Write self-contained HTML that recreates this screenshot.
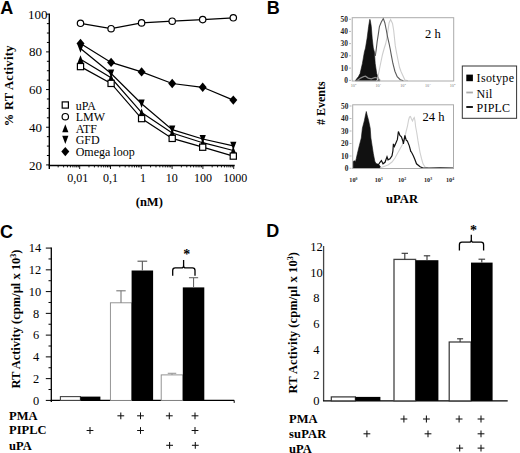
<!DOCTYPE html>
<html><head><meta charset="utf-8"><style>
html,body{margin:0;padding:0;background:#fff;width:520px;height:453px;overflow:hidden;}
svg{display:block;font-family:"Liberation Serif",serif;}
</style></head><body>
<svg width="520" height="453" viewBox="0 0 520 453">
<rect width="520" height="453" fill="#fff"/>
<text x="0.3" y="13.8" font-size="18" text-anchor="start" font-weight="bold" font-family="Liberation Sans, sans-serif" fill="#000" >A</text>
<text x="266.7" y="13.6" font-size="18" text-anchor="start" font-weight="bold" font-family="Liberation Sans, sans-serif" fill="#000" >B</text>
<text x="0.0" y="237.9" font-size="18" text-anchor="start" font-weight="bold" font-family="Liberation Sans, sans-serif" fill="#000" >C</text>
<text x="266.3" y="237.3" font-size="18" text-anchor="start" font-weight="bold" font-family="Liberation Sans, sans-serif" fill="#000" >D</text>
<line x1="49.3" y1="13.5" x2="49.3" y2="169.0" stroke="#000" stroke-width="1.4"/>
<line x1="48.699999999999996" y1="165.4" x2="234.7" y2="165.4" stroke="#000" stroke-width="1.5"/>
<line x1="46.099999999999994" y1="164.92" x2="49.3" y2="164.92" stroke="#000" stroke-width="1"/>
<line x1="46.9" y1="155.49999999999997" x2="49.3" y2="155.49999999999997" stroke="#000" stroke-width="1"/>
<line x1="46.9" y1="146.07999999999998" x2="49.3" y2="146.07999999999998" stroke="#000" stroke-width="1"/>
<line x1="46.9" y1="136.66" x2="49.3" y2="136.66" stroke="#000" stroke-width="1"/>
<line x1="46.099999999999994" y1="127.24" x2="49.3" y2="127.24" stroke="#000" stroke-width="1"/>
<line x1="46.9" y1="117.82" x2="49.3" y2="117.82" stroke="#000" stroke-width="1"/>
<line x1="46.9" y1="108.39999999999999" x2="49.3" y2="108.39999999999999" stroke="#000" stroke-width="1"/>
<line x1="46.9" y1="98.98" x2="49.3" y2="98.98" stroke="#000" stroke-width="1"/>
<line x1="46.099999999999994" y1="89.56" x2="49.3" y2="89.56" stroke="#000" stroke-width="1"/>
<line x1="46.9" y1="80.14" x2="49.3" y2="80.14" stroke="#000" stroke-width="1"/>
<line x1="46.9" y1="70.72" x2="49.3" y2="70.72" stroke="#000" stroke-width="1"/>
<line x1="46.9" y1="61.3" x2="49.3" y2="61.3" stroke="#000" stroke-width="1"/>
<line x1="46.099999999999994" y1="51.879999999999995" x2="49.3" y2="51.879999999999995" stroke="#000" stroke-width="1"/>
<line x1="46.9" y1="42.459999999999994" x2="49.3" y2="42.459999999999994" stroke="#000" stroke-width="1"/>
<line x1="46.9" y1="33.04" x2="49.3" y2="33.04" stroke="#000" stroke-width="1"/>
<line x1="46.9" y1="23.619999999999997" x2="49.3" y2="23.619999999999997" stroke="#000" stroke-width="1"/>
<line x1="46.099999999999994" y1="14.2" x2="49.3" y2="14.2" stroke="#000" stroke-width="1"/>
<text x="28.1" y="18.799999999999997" font-size="13" text-anchor="start" font-family="Liberation Serif, serif" fill="#000" >100</text>
<text x="28.9" y="56.48" font-size="13" text-anchor="start" font-family="Liberation Serif, serif" fill="#000" >80</text>
<text x="28.9" y="94.16" font-size="13" text-anchor="start" font-family="Liberation Serif, serif" fill="#000" >60</text>
<text x="28.9" y="131.84" font-size="13" text-anchor="start" font-family="Liberation Serif, serif" fill="#000" >40</text>
<text x="28.9" y="169.51999999999998" font-size="13" text-anchor="start" font-family="Liberation Serif, serif" fill="#000" >20</text>
<line x1="58.17172386645062" y1="165.4" x2="58.17172386645062" y2="167.4" stroke="#000" stroke-width="0.9"/>
<line x1="63.59533464536561" y1="165.4" x2="63.59533464536561" y2="167.4" stroke="#000" stroke-width="0.9"/>
<line x1="67.44344773290125" y1="165.4" x2="67.44344773290125" y2="167.4" stroke="#000" stroke-width="0.9"/>
<line x1="70.42827613354937" y1="165.4" x2="70.42827613354937" y2="167.4" stroke="#000" stroke-width="0.9"/>
<line x1="72.86705851181624" y1="165.4" x2="72.86705851181624" y2="167.4" stroke="#000" stroke-width="0.9"/>
<line x1="74.92901963243912" y1="165.4" x2="74.92901963243912" y2="167.4" stroke="#000" stroke-width="0.9"/>
<line x1="76.71517159935188" y1="165.4" x2="76.71517159935188" y2="167.4" stroke="#000" stroke-width="0.9"/>
<line x1="78.2906692907312" y1="165.4" x2="78.2906692907312" y2="167.4" stroke="#000" stroke-width="0.9"/>
<line x1="79.7" y1="165.4" x2="79.7" y2="169.0" stroke="#000" stroke-width="0.9"/>
<line x1="88.97172386645063" y1="165.4" x2="88.97172386645063" y2="167.4" stroke="#000" stroke-width="0.9"/>
<line x1="94.39533464536561" y1="165.4" x2="94.39533464536561" y2="167.4" stroke="#000" stroke-width="0.9"/>
<line x1="98.24344773290125" y1="165.4" x2="98.24344773290125" y2="167.4" stroke="#000" stroke-width="0.9"/>
<line x1="101.22827613354939" y1="165.4" x2="101.22827613354939" y2="167.4" stroke="#000" stroke-width="0.9"/>
<line x1="103.66705851181622" y1="165.4" x2="103.66705851181622" y2="167.4" stroke="#000" stroke-width="0.9"/>
<line x1="105.72901963243912" y1="165.4" x2="105.72901963243912" y2="167.4" stroke="#000" stroke-width="0.9"/>
<line x1="107.51517159935186" y1="165.4" x2="107.51517159935186" y2="167.4" stroke="#000" stroke-width="0.9"/>
<line x1="109.0906692907312" y1="165.4" x2="109.0906692907312" y2="167.4" stroke="#000" stroke-width="0.9"/>
<line x1="110.5" y1="165.4" x2="110.5" y2="169.0" stroke="#000" stroke-width="0.9"/>
<line x1="119.77172386645063" y1="165.4" x2="119.77172386645063" y2="167.4" stroke="#000" stroke-width="0.9"/>
<line x1="125.1953346453656" y1="165.4" x2="125.1953346453656" y2="167.4" stroke="#000" stroke-width="0.9"/>
<line x1="129.04344773290126" y1="165.4" x2="129.04344773290126" y2="167.4" stroke="#000" stroke-width="0.9"/>
<line x1="132.02827613354938" y1="165.4" x2="132.02827613354938" y2="167.4" stroke="#000" stroke-width="0.9"/>
<line x1="134.46705851181622" y1="165.4" x2="134.46705851181622" y2="167.4" stroke="#000" stroke-width="0.9"/>
<line x1="136.52901963243912" y1="165.4" x2="136.52901963243912" y2="167.4" stroke="#000" stroke-width="0.9"/>
<line x1="138.31517159935186" y1="165.4" x2="138.31517159935186" y2="167.4" stroke="#000" stroke-width="0.9"/>
<line x1="139.8906692907312" y1="165.4" x2="139.8906692907312" y2="167.4" stroke="#000" stroke-width="0.9"/>
<line x1="141.3" y1="165.4" x2="141.3" y2="169.0" stroke="#000" stroke-width="0.9"/>
<line x1="150.5717238664506" y1="165.4" x2="150.5717238664506" y2="167.4" stroke="#000" stroke-width="0.9"/>
<line x1="155.99533464536563" y1="165.4" x2="155.99533464536563" y2="167.4" stroke="#000" stroke-width="0.9"/>
<line x1="159.84344773290127" y1="165.4" x2="159.84344773290127" y2="167.4" stroke="#000" stroke-width="0.9"/>
<line x1="162.82827613354937" y1="165.4" x2="162.82827613354937" y2="167.4" stroke="#000" stroke-width="0.9"/>
<line x1="165.26705851181623" y1="165.4" x2="165.26705851181623" y2="167.4" stroke="#000" stroke-width="0.9"/>
<line x1="167.3290196324391" y1="165.4" x2="167.3290196324391" y2="167.4" stroke="#000" stroke-width="0.9"/>
<line x1="169.11517159935187" y1="165.4" x2="169.11517159935187" y2="167.4" stroke="#000" stroke-width="0.9"/>
<line x1="170.6906692907312" y1="165.4" x2="170.6906692907312" y2="167.4" stroke="#000" stroke-width="0.9"/>
<line x1="172.10000000000002" y1="165.4" x2="172.10000000000002" y2="169.0" stroke="#000" stroke-width="0.9"/>
<line x1="181.37172386645062" y1="165.4" x2="181.37172386645062" y2="167.4" stroke="#000" stroke-width="0.9"/>
<line x1="186.7953346453656" y1="165.4" x2="186.7953346453656" y2="167.4" stroke="#000" stroke-width="0.9"/>
<line x1="190.64344773290125" y1="165.4" x2="190.64344773290125" y2="167.4" stroke="#000" stroke-width="0.9"/>
<line x1="193.62827613354938" y1="165.4" x2="193.62827613354938" y2="167.4" stroke="#000" stroke-width="0.9"/>
<line x1="196.06705851181624" y1="165.4" x2="196.06705851181624" y2="167.4" stroke="#000" stroke-width="0.9"/>
<line x1="198.1290196324391" y1="165.4" x2="198.1290196324391" y2="167.4" stroke="#000" stroke-width="0.9"/>
<line x1="199.91517159935188" y1="165.4" x2="199.91517159935188" y2="167.4" stroke="#000" stroke-width="0.9"/>
<line x1="201.4906692907312" y1="165.4" x2="201.4906692907312" y2="167.4" stroke="#000" stroke-width="0.9"/>
<line x1="202.9" y1="165.4" x2="202.9" y2="169.0" stroke="#000" stroke-width="0.9"/>
<line x1="212.17172386645063" y1="165.4" x2="212.17172386645063" y2="167.4" stroke="#000" stroke-width="0.9"/>
<line x1="217.5953346453656" y1="165.4" x2="217.5953346453656" y2="167.4" stroke="#000" stroke-width="0.9"/>
<line x1="221.44344773290123" y1="165.4" x2="221.44344773290123" y2="167.4" stroke="#000" stroke-width="0.9"/>
<line x1="224.4282761335494" y1="165.4" x2="224.4282761335494" y2="167.4" stroke="#000" stroke-width="0.9"/>
<line x1="226.86705851181625" y1="165.4" x2="226.86705851181625" y2="167.4" stroke="#000" stroke-width="0.9"/>
<line x1="228.92901963243912" y1="165.4" x2="228.92901963243912" y2="167.4" stroke="#000" stroke-width="0.9"/>
<line x1="230.7151715993519" y1="165.4" x2="230.7151715993519" y2="167.4" stroke="#000" stroke-width="0.9"/>
<line x1="232.29066929073122" y1="165.4" x2="232.29066929073122" y2="167.4" stroke="#000" stroke-width="0.9"/>
<line x1="233.7" y1="165.4" x2="233.7" y2="169.0" stroke="#000" stroke-width="0.9"/>
<text x="77.8" y="182.2" font-size="12" text-anchor="middle" font-family="Liberation Serif, serif" fill="#000" >0,01</text>
<text x="110.4" y="182.2" font-size="12" text-anchor="middle" font-family="Liberation Serif, serif" fill="#000" >0,1</text>
<text x="143.0" y="182.2" font-size="12" text-anchor="middle" font-family="Liberation Serif, serif" fill="#000" >1</text>
<text x="171.8" y="182.2" font-size="12" text-anchor="middle" font-family="Liberation Serif, serif" fill="#000" >10</text>
<text x="203.1" y="182.2" font-size="12" text-anchor="middle" font-family="Liberation Serif, serif" fill="#000" >100</text>
<text x="235.2" y="182.2" font-size="12" text-anchor="middle" font-family="Liberation Serif, serif" fill="#000" >1000</text>
<text x="149.3" y="205.5" font-size="12.5" text-anchor="middle" font-weight="bold" font-family="Liberation Serif, serif" fill="#000" >(nM)</text>
<text transform="translate(13.2,85.8) rotate(-90)" x="0" y="0" font-size="12.5" letter-spacing="0.3" text-anchor="middle" font-weight="bold" font-family="Liberation Serif, serif">% RT Activity</text>
<polyline points="80.5,23.3 111.1,28.7 141.6,22.9 172.2,21.2 202.7,19.6 233.3,17.8" fill="none" stroke="#000" stroke-width="1.2"/>
<polyline points="80.5,43.4 111.1,62.4 141.6,71.9 172.2,83.5 202.7,87.3 233.3,100.1" fill="none" stroke="#000" stroke-width="1.2"/>
<polyline points="80.5,48.5 111.1,73.5 141.6,103.7 172.2,129.6 202.7,139.0 233.3,145.9" fill="none" stroke="#000" stroke-width="1.2"/>
<polyline points="80.5,59.3 111.1,77.8 141.6,112.6 172.2,133.0 202.7,142.7 233.3,150.5" fill="none" stroke="#000" stroke-width="1.2"/>
<polyline points="80.5,66.6 111.1,83.4 141.6,118.6 172.2,138.4 202.7,147.2 233.3,156.1" fill="none" stroke="#000" stroke-width="1.2"/>
<circle cx="80.5" cy="23.3" r="3.2" fill="#fff" stroke="#000" stroke-width="1.2"/>
<circle cx="111.1" cy="28.7" r="3.2" fill="#fff" stroke="#000" stroke-width="1.2"/>
<circle cx="141.6" cy="22.9" r="3.2" fill="#fff" stroke="#000" stroke-width="1.2"/>
<circle cx="172.2" cy="21.2" r="3.2" fill="#fff" stroke="#000" stroke-width="1.2"/>
<circle cx="202.7" cy="19.6" r="3.2" fill="#fff" stroke="#000" stroke-width="1.2"/>
<circle cx="233.3" cy="17.8" r="3.2" fill="#fff" stroke="#000" stroke-width="1.2"/>
<path d="M80.5,38.7 L84.5,43.4 L80.5,48.1 L76.5,43.4Z" fill="#000"/>
<path d="M111.1,57.7 L115.1,62.4 L111.1,67.1 L107.1,62.4Z" fill="#000"/>
<path d="M141.6,67.2 L145.6,71.9 L141.6,76.6 L137.6,71.9Z" fill="#000"/>
<path d="M172.2,78.8 L176.2,83.5 L172.2,88.2 L168.2,83.5Z" fill="#000"/>
<path d="M202.7,82.6 L206.7,87.3 L202.7,92.0 L198.7,87.3Z" fill="#000"/>
<path d="M233.3,95.4 L237.3,100.1 L233.3,104.8 L229.3,100.1Z" fill="#000"/>
<path d="M77.4,44.4 L83.6,44.4 L80.5,52.7Z" fill="#000"/>
<path d="M108.0,69.4 L114.2,69.4 L111.1,77.7Z" fill="#000"/>
<path d="M138.5,99.6 L144.7,99.6 L141.6,107.9Z" fill="#000"/>
<path d="M169.1,125.5 L175.3,125.5 L172.2,133.8Z" fill="#000"/>
<path d="M199.6,134.9 L205.8,134.9 L202.7,143.2Z" fill="#000"/>
<path d="M230.2,141.8 L236.4,141.8 L233.3,150.1Z" fill="#000"/>
<path d="M80.5,55.2 L83.6,63.3 L77.4,63.3Z" fill="#000"/>
<path d="M111.1,73.7 L114.2,81.8 L108.0,81.8Z" fill="#000"/>
<path d="M141.6,108.5 L144.7,116.6 L138.5,116.6Z" fill="#000"/>
<path d="M172.2,128.9 L175.3,137.0 L169.1,137.0Z" fill="#000"/>
<path d="M202.7,138.6 L205.8,146.7 L199.6,146.7Z" fill="#000"/>
<path d="M233.3,146.4 L236.4,154.5 L230.2,154.5Z" fill="#000"/>
<rect x="77.4" y="63.5" width="6.2" height="6.2" fill="#fff" stroke="#000" stroke-width="1.2"/>
<rect x="108.0" y="80.3" width="6.2" height="6.2" fill="#fff" stroke="#000" stroke-width="1.2"/>
<rect x="138.5" y="115.5" width="6.2" height="6.2" fill="#fff" stroke="#000" stroke-width="1.2"/>
<rect x="169.1" y="135.3" width="6.2" height="6.2" fill="#fff" stroke="#000" stroke-width="1.2"/>
<rect x="199.6" y="144.1" width="6.2" height="6.2" fill="#fff" stroke="#000" stroke-width="1.2"/>
<rect x="230.2" y="153.0" width="6.2" height="6.2" fill="#fff" stroke="#000" stroke-width="1.2"/>
<rect x="62.2" y="101.9" width="6.2" height="6.2" fill="#fff" stroke="#000" stroke-width="1.2"/>
<text x="75.7" y="109.5" font-size="12" text-anchor="start" font-family="Liberation Serif, serif" fill="#000" >uPA</text>
<circle cx="65.3" cy="116.7" r="3.2" fill="#fff" stroke="#000" stroke-width="1.2"/>
<text x="75.7" y="121.15" font-size="12" text-anchor="start" font-family="Liberation Serif, serif" fill="#000" >LMW</text>
<path d="M65.3,124.2 L68.4,132.3 L62.2,132.3Z" fill="#000"/>
<text x="75.7" y="132.8" font-size="12" text-anchor="start" font-family="Liberation Serif, serif" fill="#000" >ATF</text>
<path d="M62.2,135.8 L68.4,135.8 L65.3,144.1Z" fill="#000"/>
<text x="75.7" y="144.45" font-size="12" text-anchor="start" font-family="Liberation Serif, serif" fill="#000" >GFD</text>
<path d="M65.3,146.9 L69.3,151.6 L65.3,156.3 L61.3,151.6Z" fill="#000"/>
<text x="75.7" y="156.1" font-size="12" text-anchor="start" font-family="Liberation Serif, serif" fill="#000" >Omega loop</text>
<path d="M355.3,80.8 L356.6,78.9 L358.5,76.5 L360.1,73.5 L362.4,63.5 L364.4,51.9 L365.5,48.0 L367.1,38.2 L368.6,26.6 L369.5,21.0 L369.9,19.3 L370.4,21.0 L371.3,26.6 L372.2,38.2 L373.3,48.0 L374.4,51.9 L375.2,63.5 L376.7,73.5 L378.7,78.9 L380.0,80.8Z" fill="#111" stroke="#111" stroke-width="0.6"/>
<path d="M357.5,80.3 L358.2,79.7 L361.0,77.8 L363.6,76.6 L365.5,76.2 L368.2,78.1 L371.3,78.9 L375.2,77.4 L378.3,78.5 L380.0,80.3" fill="none" stroke="#8a8a8a" stroke-width="1.3"/>
<path d="M376.5,80.8 L377.5,79.5 L378.6,73.5 L380.5,64.0 L382.5,54.5 L384.3,48.0 L385.6,44.0 L386.8,38.5 L388.3,28.1 L389.1,22.7 L390.6,19.6 L392.5,23.5 L393.7,30.5 L394.5,38.2 L395.3,45.9 L396.4,52.0 L398.0,60.0 L399.5,67.3 L401.0,71.5 L402.6,75.0 L404.9,80.0 L408.0,80.8" fill="none" stroke="#cdcdcd" stroke-width="1.1"/>
<path d="M375.3,56.0 L376.3,49.0 L377.1,42.0 L378.3,34.3 L379.4,26.6 L381.3,22.0 L383.3,18.5 L384.8,22.7 L386.4,30.5 L387.5,36.6 L389.1,43.6 L390.2,49.0 L391.4,55.7 L392.9,63.5 L394.9,71.2 L397.2,76.6 L400.3,79.7 L403.4,80.8" fill="none" stroke="#5a5a5a" stroke-width="1.1"/>
<rect x="352.2" y="17.7" width="101.5" height="63.3" fill="none" stroke="#ababab" stroke-width="1"/>
<line x1="349.0" y1="19.3" x2="351.0" y2="19.3" stroke="#999" stroke-width="0.7"/>
<text x="348.0" y="21.900000000000002" font-size="7.4" text-anchor="end" font-weight="bold" font-family="Liberation Serif, serif" fill="#222" >50</text>
<line x1="349.0" y1="31.4" x2="351.0" y2="31.4" stroke="#999" stroke-width="0.7"/>
<text x="348.0" y="34.0" font-size="7.4" text-anchor="end" font-weight="bold" font-family="Liberation Serif, serif" fill="#222" >40</text>
<line x1="349.0" y1="43.6" x2="351.0" y2="43.6" stroke="#999" stroke-width="0.7"/>
<text x="348.0" y="46.2" font-size="7.4" text-anchor="end" font-weight="bold" font-family="Liberation Serif, serif" fill="#222" >30</text>
<line x1="349.0" y1="55.8" x2="351.0" y2="55.8" stroke="#999" stroke-width="0.7"/>
<text x="348.0" y="58.4" font-size="7.4" text-anchor="end" font-weight="bold" font-family="Liberation Serif, serif" fill="#222" >20</text>
<line x1="349.0" y1="68.1" x2="351.0" y2="68.1" stroke="#999" stroke-width="0.7"/>
<text x="348.0" y="70.69999999999999" font-size="7.4" text-anchor="end" font-weight="bold" font-family="Liberation Serif, serif" fill="#222" >10</text>
<line x1="349.0" y1="80.4" x2="351.0" y2="80.4" stroke="#999" stroke-width="0.7"/>
<text x="348.0" y="83.0" font-size="7.4" text-anchor="end" font-weight="bold" font-family="Liberation Serif, serif" fill="#222" >0</text>
<text x="353.5" y="86.8" font-size="4.2" text-anchor="middle" font-family="Liberation Serif, serif" fill="#777" >10<tspan font-size="2.8" dy="-1.6">0</tspan></text>
<text x="378.3" y="86.8" font-size="4.2" text-anchor="middle" font-family="Liberation Serif, serif" fill="#777" >10<tspan font-size="2.8" dy="-1.6">1</tspan></text>
<text x="403" y="86.8" font-size="4.2" text-anchor="middle" font-family="Liberation Serif, serif" fill="#777" >10<tspan font-size="2.8" dy="-1.6">2</tspan></text>
<text x="427.8" y="86.8" font-size="4.2" text-anchor="middle" font-family="Liberation Serif, serif" fill="#777" >10<tspan font-size="2.8" dy="-1.6">3</tspan></text>
<text x="452.5" y="86.8" font-size="4.2" text-anchor="middle" font-family="Liberation Serif, serif" fill="#777" >10<tspan font-size="2.8" dy="-1.6">4</tspan></text>
<path d="M353.0,168.5 L353.0,161.5 L354.5,160.8 L355.5,161.5 L356.3,158.5 L357.4,153.5 L359.3,145.7 L361.3,138.0 L362.4,128.2 L364.4,120.5 L365.5,115.0 L366.3,111.5 L367.1,115.0 L368.6,120.5 L370.2,128.2 L370.9,138.0 L372.1,145.7 L373.3,153.5 L374.8,161.2 L376.0,163.5 L378.3,164.3 L380.0,166.0 L381.0,168.5Z" fill="#111" stroke="#111" stroke-width="0.6"/>
<path d="M380.0,168.0 L384.0,166.5 L388.0,165.0 L392.0,162.0 L395.0,158.0 L398.0,152.5 L400.5,148.0 L402.9,143.9 L404.5,138.0 L406.0,132.0 L407.5,126.0 L408.6,120.0 L409.5,117.0 L410.5,116.5 L411.5,119.0 L412.5,121.0 L413.5,118.5 L414.3,117.5 L415.0,121.0 L415.6,126.5 L416.8,133.0 L418.0,140.9 L420.0,152.3 L421.5,158.5 L423.0,163.8 L425.0,167.0 L428.0,168.0" fill="none" stroke="#d0d0d0" stroke-width="1.1"/>
<path d="M375.5,166.8 L378.3,165.0 L379.8,162.5 L381.4,160.6 L383.0,163.8 L385.0,162.3 L387.0,156.8 L388.0,159.8 L390.0,158.8 L392.0,155.8 L392.9,150.8 L393.4,143.9 L394.4,146.4 L395.9,142.9 L397.4,139.4 L398.4,131.5 L399.9,135.4 L401.4,136.9 L403.0,141.5 L403.4,143.9 L404.9,135.4 L406.3,140.4 L407.3,140.9 L409.3,145.9 L410.8,151.5 L411.3,151.8 L413.3,155.8 L414.8,159.3 L416.5,163.8 L420.1,166.7 L423.0,168.0 L430.0,168.2 L440.0,167.8 L453.0,168.2" fill="none" stroke="#111" stroke-width="1.2"/>
<rect x="352.7" y="104.8" width="100.80000000000001" height="63.7" fill="none" stroke="#ababab" stroke-width="1"/>
<line x1="349.5" y1="106.0" x2="351.5" y2="106.0" stroke="#999" stroke-width="0.7"/>
<text x="348.5" y="108.6" font-size="7.4" text-anchor="end" font-weight="bold" font-family="Liberation Serif, serif" fill="#222" >50</text>
<line x1="349.5" y1="118.5" x2="351.5" y2="118.5" stroke="#999" stroke-width="0.7"/>
<text x="348.5" y="121.1" font-size="7.4" text-anchor="end" font-weight="bold" font-family="Liberation Serif, serif" fill="#222" >40</text>
<line x1="349.5" y1="131.0" x2="351.5" y2="131.0" stroke="#999" stroke-width="0.7"/>
<text x="348.5" y="133.6" font-size="7.4" text-anchor="end" font-weight="bold" font-family="Liberation Serif, serif" fill="#222" >30</text>
<line x1="349.5" y1="143.5" x2="351.5" y2="143.5" stroke="#999" stroke-width="0.7"/>
<text x="348.5" y="146.1" font-size="7.4" text-anchor="end" font-weight="bold" font-family="Liberation Serif, serif" fill="#222" >20</text>
<line x1="349.5" y1="156.0" x2="351.5" y2="156.0" stroke="#999" stroke-width="0.7"/>
<text x="348.5" y="158.6" font-size="7.4" text-anchor="end" font-weight="bold" font-family="Liberation Serif, serif" fill="#222" >10</text>
<line x1="349.5" y1="168.3" x2="351.5" y2="168.3" stroke="#999" stroke-width="0.7"/>
<text x="348.5" y="170.9" font-size="7.4" text-anchor="end" font-weight="bold" font-family="Liberation Serif, serif" fill="#222" >0</text>
<text x="353.4" y="181.8" font-size="6.2" text-anchor="middle" font-weight="bold" font-family="Liberation Serif, serif" fill="#222" >10<tspan font-size="3.8" dy="-2.2">0</tspan></text>
<text x="378.8" y="181.8" font-size="6.2" text-anchor="middle" font-weight="bold" font-family="Liberation Serif, serif" fill="#222" >10<tspan font-size="3.8" dy="-2.2">1</tspan></text>
<text x="402.0" y="181.8" font-size="6.2" text-anchor="middle" font-weight="bold" font-family="Liberation Serif, serif" fill="#222" >10<tspan font-size="3.8" dy="-2.2">2</tspan></text>
<text x="428.0" y="181.8" font-size="6.2" text-anchor="middle" font-weight="bold" font-family="Liberation Serif, serif" fill="#222" >10<tspan font-size="3.8" dy="-2.2">3</tspan></text>
<text x="450.0" y="181.8" font-size="6.2" text-anchor="middle" font-weight="bold" font-family="Liberation Serif, serif" fill="#222" >10<tspan font-size="3.8" dy="-2.2">4</tspan></text>
<text x="425.1" y="37.9" font-size="12.6" text-anchor="start" font-family="Liberation Serif, serif" fill="#000" >2 h</text>
<text x="422.5" y="120.7" font-size="12.6" text-anchor="start" font-family="Liberation Serif, serif" fill="#000" >24 h</text>
<text transform="translate(324.8,103.2) rotate(-90)" font-size="12" text-anchor="middle" font-weight="bold" font-family="Liberation Serif, serif">#  Events</text>
<text x="402.1" y="202.9" font-size="12.6" text-anchor="middle" font-weight="bold" font-family="Liberation Serif, serif" fill="#000" >uPAR</text>
<rect x="462.3" y="66.0" width="54.3" height="52.3" fill="#fff" stroke="#333" stroke-width="1"/>
<rect x="466.3" y="74.6" width="6.6" height="6.6" fill="#000"/>
<line x1="466.3" y1="92.5" x2="472.9" y2="92.5" stroke="#aaa" stroke-width="1.8"/>
<line x1="466.3" y1="107.0" x2="472.9" y2="107.0" stroke="#000" stroke-width="1.8"/>
<text x="476.6" y="82.4" font-size="12" text-anchor="start" font-family="Liberation Serif, serif" fill="#000" letter-spacing="0.35">Isotype</text>
<text x="476.6" y="97.7" font-size="12" text-anchor="start" font-family="Liberation Serif, serif" fill="#000" letter-spacing="0.2">Nil</text>
<text x="476.6" y="112.3" font-size="12" text-anchor="start" font-family="Liberation Serif, serif" fill="#000" letter-spacing="0.2">PIPLC</text>
<line x1="51.3" y1="247.57999999999996" x2="51.3" y2="401.9" stroke="#000" stroke-width="1.3"/>
<line x1="50.699999999999996" y1="400.4" x2="234.2" y2="400.4" stroke="#000" stroke-width="1.3"/>
<line x1="234.2" y1="400.4" x2="234.2" y2="402.9" stroke="#000" stroke-width="1"/>
<line x1="45.8" y1="400.4" x2="51.3" y2="400.4" stroke="#000" stroke-width="1"/>
<line x1="48.5" y1="389.52" x2="51.3" y2="389.52" stroke="#000" stroke-width="1"/>
<line x1="45.8" y1="378.64" x2="51.3" y2="378.64" stroke="#000" stroke-width="1"/>
<line x1="48.5" y1="367.76" x2="51.3" y2="367.76" stroke="#000" stroke-width="1"/>
<line x1="45.8" y1="356.88" x2="51.3" y2="356.88" stroke="#000" stroke-width="1"/>
<line x1="48.5" y1="346.0" x2="51.3" y2="346.0" stroke="#000" stroke-width="1"/>
<line x1="45.8" y1="335.12" x2="51.3" y2="335.12" stroke="#000" stroke-width="1"/>
<line x1="48.5" y1="324.23999999999995" x2="51.3" y2="324.23999999999995" stroke="#000" stroke-width="1"/>
<line x1="45.8" y1="313.35999999999996" x2="51.3" y2="313.35999999999996" stroke="#000" stroke-width="1"/>
<line x1="48.5" y1="302.47999999999996" x2="51.3" y2="302.47999999999996" stroke="#000" stroke-width="1"/>
<line x1="45.8" y1="291.59999999999997" x2="51.3" y2="291.59999999999997" stroke="#000" stroke-width="1"/>
<line x1="48.5" y1="280.71999999999997" x2="51.3" y2="280.71999999999997" stroke="#000" stroke-width="1"/>
<line x1="45.8" y1="269.84" x2="51.3" y2="269.84" stroke="#000" stroke-width="1"/>
<line x1="48.5" y1="258.96" x2="51.3" y2="258.96" stroke="#000" stroke-width="1"/>
<line x1="45.8" y1="248.07999999999996" x2="51.3" y2="248.07999999999996" stroke="#000" stroke-width="1"/>
<text x="36.0" y="404.7" font-size="12.4" text-anchor="middle" font-family="Liberation Serif, serif" fill="#000" >0</text>
<text x="36.0" y="382.94" font-size="12.4" text-anchor="middle" font-family="Liberation Serif, serif" fill="#000" >2</text>
<text x="36.0" y="361.18" font-size="12.4" text-anchor="middle" font-family="Liberation Serif, serif" fill="#000" >4</text>
<text x="36.0" y="339.42" font-size="12.4" text-anchor="middle" font-family="Liberation Serif, serif" fill="#000" >6</text>
<text x="36.0" y="317.65999999999997" font-size="12.4" text-anchor="middle" font-family="Liberation Serif, serif" fill="#000" >8</text>
<text x="35.0" y="295.9" font-size="12.4" text-anchor="middle" font-family="Liberation Serif, serif" fill="#000" >10</text>
<text x="35.0" y="274.14" font-size="12.4" text-anchor="middle" font-family="Liberation Serif, serif" fill="#000" >12</text>
<text x="35.0" y="252.37999999999997" font-size="12.4" text-anchor="middle" font-family="Liberation Serif, serif" fill="#000" >14</text>
<rect x="60.4" y="396.6" width="20.0" height="3.8" fill="#fff" stroke="#444" stroke-width="1.1"/>
<rect x="80.4" y="396.6" width="20.0" height="3.8" fill="#000"/>
<rect x="110.4" y="302.8" width="21.2" height="97.6" fill="#fff" stroke="#8a8a8a" stroke-width="0.9"/>
<line x1="121.0" y1="302.8" x2="121.0" y2="290.8" stroke="#777" stroke-width="1.1"/>
<line x1="116.3" y1="290.8" x2="125.7" y2="290.8" stroke="#777" stroke-width="1.1"/>
<rect x="131.6" y="270.5" width="21.5" height="129.9" fill="#000"/>
<line x1="142.35" y1="270.5" x2="142.35" y2="261.2" stroke="#555" stroke-width="1.1"/>
<line x1="137.5" y1="261.2" x2="147.2" y2="261.2" stroke="#555" stroke-width="1.1"/>
<rect x="161.2" y="374.9" width="21.6" height="25.5" fill="#fff" stroke="#888" stroke-width="0.9"/>
<line x1="172.0" y1="374.9" x2="172.0" y2="373.3" stroke="#999" stroke-width="1.1"/>
<line x1="167.75" y1="373.3" x2="176.25" y2="373.3" stroke="#999" stroke-width="1.1"/>
<rect x="182.8" y="287.4" width="21.5" height="113.0" fill="#000"/>
<line x1="193.55" y1="287.4" x2="193.55" y2="277.7" stroke="#666" stroke-width="1.1"/>
<line x1="188.95000000000002" y1="277.7" x2="198.15" y2="277.7" stroke="#666" stroke-width="1.1"/>
<path d="M172.7,275.8 L172.7,270.4 Q172.7,267.9 175.2,267.9 L181.6,267.9 Q183.6,267.9 183.6,265.4 L183.6,260.1 M183.6,265.4 Q183.6,267.9 185.6,267.9 L192.5,267.9 Q195.0,267.9 195.0,270.4 L195.0,275.8" fill="none" stroke="#000" stroke-width="1.3"/>
<text x="186.8" y="258.6" font-size="14" text-anchor="middle" font-weight="bold" font-family="Liberation Serif, serif" fill="#000" >*</text>
<text transform="translate(20.0,319.0) rotate(-90)" font-size="12.5" text-anchor="middle" font-weight="bold" font-family="Liberation Serif, serif">RT Activity (cpm/µl x 10<tspan font-size="8" dy="-4">3</tspan><tspan dy="4">)</tspan></text>
<text x="9.0" y="419.8" font-size="12.5" text-anchor="start" font-weight="bold" font-family="Liberation Serif, serif" fill="#000" >PMA</text>
<text x="9.0" y="433.8" font-size="12.5" text-anchor="start" font-weight="bold" font-family="Liberation Serif, serif" fill="#000" >PIPLC</text>
<text x="9.0" y="450.0" font-size="12.5" text-anchor="start" font-weight="bold" font-family="Liberation Serif, serif" fill="#000" >uPA</text>
<line x1="117.39999999999999" y1="415.8" x2="124.2" y2="415.8" stroke="#111" stroke-width="1.05"/>
<line x1="120.8" y1="412.40000000000003" x2="120.8" y2="419.2" stroke="#111" stroke-width="1.05"/>
<line x1="137.1" y1="415.8" x2="143.9" y2="415.8" stroke="#111" stroke-width="1.05"/>
<line x1="140.5" y1="412.40000000000003" x2="140.5" y2="419.2" stroke="#111" stroke-width="1.05"/>
<line x1="165.9" y1="415.8" x2="172.70000000000002" y2="415.8" stroke="#111" stroke-width="1.05"/>
<line x1="169.3" y1="412.40000000000003" x2="169.3" y2="419.2" stroke="#111" stroke-width="1.05"/>
<line x1="191.6" y1="415.8" x2="198.4" y2="415.8" stroke="#111" stroke-width="1.05"/>
<line x1="195.0" y1="412.40000000000003" x2="195.0" y2="419.2" stroke="#111" stroke-width="1.05"/>
<line x1="86.6" y1="430.5" x2="93.4" y2="430.5" stroke="#111" stroke-width="1.05"/>
<line x1="90.0" y1="427.1" x2="90.0" y2="433.9" stroke="#111" stroke-width="1.05"/>
<line x1="137.1" y1="430.5" x2="143.9" y2="430.5" stroke="#111" stroke-width="1.05"/>
<line x1="140.5" y1="427.1" x2="140.5" y2="433.9" stroke="#111" stroke-width="1.05"/>
<line x1="191.6" y1="430.5" x2="198.4" y2="430.5" stroke="#111" stroke-width="1.05"/>
<line x1="195.0" y1="427.1" x2="195.0" y2="433.9" stroke="#111" stroke-width="1.05"/>
<line x1="166.2" y1="445.3" x2="173.0" y2="445.3" stroke="#111" stroke-width="1.05"/>
<line x1="169.6" y1="441.90000000000003" x2="169.6" y2="448.7" stroke="#111" stroke-width="1.05"/>
<line x1="191.9" y1="445.3" x2="198.70000000000002" y2="445.3" stroke="#111" stroke-width="1.05"/>
<line x1="195.3" y1="441.90000000000003" x2="195.3" y2="448.7" stroke="#111" stroke-width="1.05"/>
<line x1="323.6" y1="246.0" x2="323.6" y2="400.9" stroke="#444" stroke-width="1.3"/>
<line x1="323.0" y1="400.9" x2="507.7" y2="400.9" stroke="#000" stroke-width="1.3"/>
<text x="316.4" y="405.2" font-size="12.5" text-anchor="middle" font-family="Liberation Serif, serif" fill="#000" >0</text>
<text x="316.4" y="379.46" font-size="12.5" text-anchor="middle" font-family="Liberation Serif, serif" fill="#000" >2</text>
<text x="316.4" y="353.71999999999997" font-size="12.5" text-anchor="middle" font-family="Liberation Serif, serif" fill="#000" >4</text>
<text x="316.4" y="327.97999999999996" font-size="12.5" text-anchor="middle" font-family="Liberation Serif, serif" fill="#000" >6</text>
<text x="316.4" y="302.24" font-size="12.5" text-anchor="middle" font-family="Liberation Serif, serif" fill="#000" >8</text>
<text x="316.4" y="276.5" font-size="12.5" text-anchor="middle" font-family="Liberation Serif, serif" fill="#000" >10</text>
<text x="316.4" y="250.76" font-size="12.5" text-anchor="middle" font-family="Liberation Serif, serif" fill="#000" >12</text>
<rect x="331.3" y="396.9" width="24.1" height="4.0" fill="#fff" stroke="#333" stroke-width="1.2"/>
<rect x="355.4" y="396.9" width="25.0" height="4.0" fill="#000"/>
<rect x="394.0" y="259.4" width="21.6" height="141.5" fill="#fff" stroke="#444" stroke-width="1.3"/>
<line x1="404.8" y1="259.4" x2="404.8" y2="253.3" stroke="#333" stroke-width="1.1"/>
<line x1="401.6" y1="253.3" x2="408.0" y2="253.3" stroke="#333" stroke-width="1.1"/>
<rect x="415.6" y="260.2" width="22.8" height="140.7" fill="#000"/>
<line x1="427.0" y1="260.2" x2="427.0" y2="255.8" stroke="#333" stroke-width="1.1"/>
<line x1="423.8" y1="255.8" x2="430.2" y2="255.8" stroke="#333" stroke-width="1.1"/>
<rect x="449.2" y="342.0" width="21.8" height="58.9" fill="#fff" stroke="#333" stroke-width="1.2"/>
<line x1="460.1" y1="342.0" x2="460.1" y2="338.8" stroke="#333" stroke-width="1.1"/>
<line x1="457.1" y1="338.8" x2="463.1" y2="338.8" stroke="#333" stroke-width="1.1"/>
<rect x="471.0" y="262.6" width="21.6" height="138.3" fill="#000"/>
<line x1="481.8" y1="262.6" x2="481.8" y2="259.2" stroke="#333" stroke-width="1.1"/>
<line x1="478.5" y1="259.2" x2="485.1" y2="259.2" stroke="#333" stroke-width="1.1"/>
<path d="M459.4,250.6 L459.4,244.7 Q459.4,242.2 461.9,242.2 L469.3,242.2 Q471.3,242.2 471.3,239.7 L471.3,234.7 M471.3,239.7 Q471.3,242.2 473.3,242.2 L481.1,242.2 Q483.6,242.2 483.6,244.7 L483.6,250.6" fill="none" stroke="#000" stroke-width="1.3"/>
<text x="473.6" y="234.9" font-size="14" text-anchor="middle" font-weight="bold" font-family="Liberation Serif, serif" fill="#000" >*</text>
<text transform="translate(297.0,322.7) rotate(-90)" font-size="12.5" letter-spacing="0.1" text-anchor="middle" font-weight="bold" font-family="Liberation Serif, serif">RT Activity (cpm/µl x 10<tspan font-size="8" dy="-4">3</tspan><tspan dy="4">)</tspan></text>
<text x="289.0" y="422.9" font-size="12.5" text-anchor="start" font-weight="bold" font-family="Liberation Serif, serif" fill="#000" >PMA</text>
<text x="289.0" y="438.1" font-size="12.5" text-anchor="start" font-weight="bold" font-family="Liberation Serif, serif" fill="#000" letter-spacing="0.2">suPAR</text>
<text x="289.0" y="452.8" font-size="12.5" text-anchor="start" font-weight="bold" font-family="Liberation Serif, serif" fill="#000" >uPA</text>
<line x1="400.5" y1="419.0" x2="407.29999999999995" y2="419.0" stroke="#111" stroke-width="1.05"/>
<line x1="403.9" y1="415.6" x2="403.9" y2="422.4" stroke="#111" stroke-width="1.05"/>
<line x1="423.0" y1="419.0" x2="429.79999999999995" y2="419.0" stroke="#111" stroke-width="1.05"/>
<line x1="426.4" y1="415.6" x2="426.4" y2="422.4" stroke="#111" stroke-width="1.05"/>
<line x1="455.70000000000005" y1="419.0" x2="462.5" y2="419.0" stroke="#111" stroke-width="1.05"/>
<line x1="459.1" y1="415.6" x2="459.1" y2="422.4" stroke="#111" stroke-width="1.05"/>
<line x1="477.6" y1="419.0" x2="484.4" y2="419.0" stroke="#111" stroke-width="1.05"/>
<line x1="481.0" y1="415.6" x2="481.0" y2="422.4" stroke="#111" stroke-width="1.05"/>
<line x1="363.5" y1="433.8" x2="370.29999999999995" y2="433.8" stroke="#111" stroke-width="1.05"/>
<line x1="366.9" y1="430.40000000000003" x2="366.9" y2="437.2" stroke="#111" stroke-width="1.05"/>
<line x1="424.6" y1="433.8" x2="431.4" y2="433.8" stroke="#111" stroke-width="1.05"/>
<line x1="428.0" y1="430.40000000000003" x2="428.0" y2="437.2" stroke="#111" stroke-width="1.05"/>
<line x1="477.6" y1="433.8" x2="484.4" y2="433.8" stroke="#111" stroke-width="1.05"/>
<line x1="481.0" y1="430.40000000000003" x2="481.0" y2="437.2" stroke="#111" stroke-width="1.05"/>
<line x1="456.3" y1="448.1" x2="463.09999999999997" y2="448.1" stroke="#111" stroke-width="1.05"/>
<line x1="459.7" y1="444.70000000000005" x2="459.7" y2="451.5" stroke="#111" stroke-width="1.05"/>
<line x1="477.6" y1="448.1" x2="484.4" y2="448.1" stroke="#111" stroke-width="1.05"/>
<line x1="481.0" y1="444.70000000000005" x2="481.0" y2="451.5" stroke="#111" stroke-width="1.05"/>
</svg>
</body></html>
